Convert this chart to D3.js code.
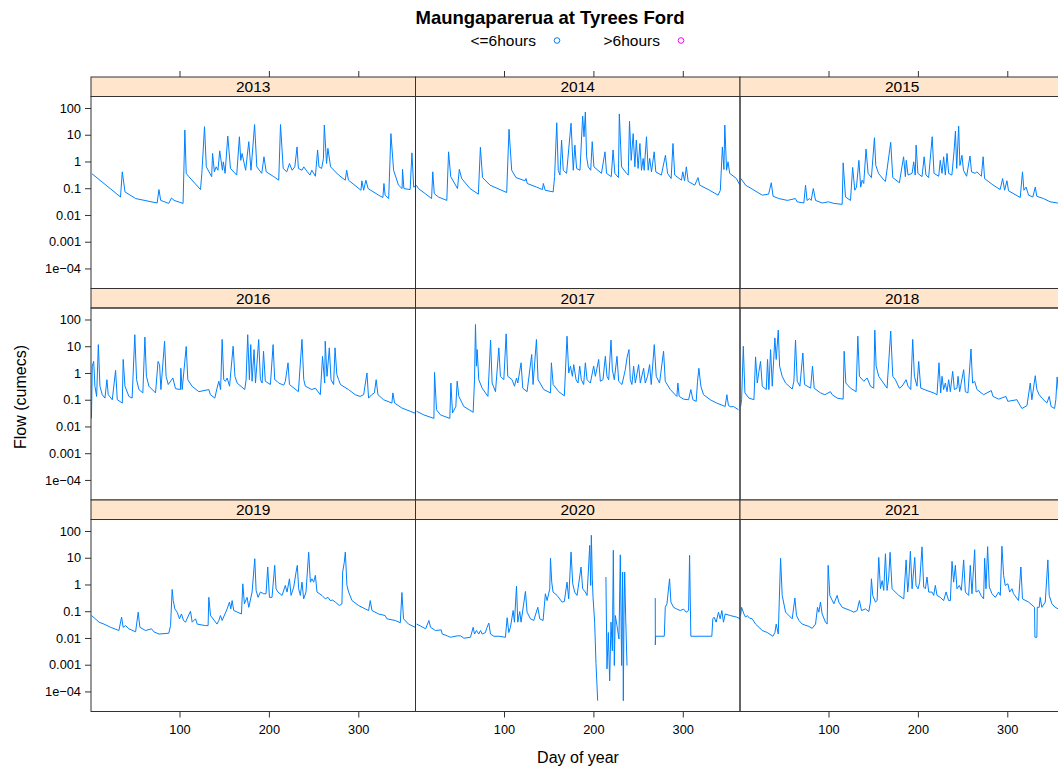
<!DOCTYPE html>
<html>
<head>
<meta charset="utf-8">
<script src="https://cdn.jsdelivr.net/npm/d3@7"></script>
<style>
  body { margin: 0; background: #fff; }
  text { font-family: "Liberation Sans", Arial, sans-serif; }
</style>
</head>
<body>
<script>
// ---- data (day of year, flow in cumecs) ----
const years = [2013, 2014, 2015, 2016, 2017, 2018, 2019, 2020, 2021];
const yTicks = [1e-4, 1e-3, 0.01, 0.1, 1, 10, 100];
const yTickLabels = ["1e\u221204", "0.001", "0.01", "0.1", "1", "10", "100"];
const xTicks = [100, 200, 300];
const legendLabels = ["<=6hours", ">6hours"];

const flow2013 = [[2,0.35],[34,0.047],[36,0.41],[39,0.073],[51,0.041],[75,0.028],[77,0.089],[79,0.035],[88,0.027],[91,0.043],[94,0.035],[104,0.027],[106,15],[107.5,0.36],[110.5,0.27],[123.5,0.089],[125,0.36],[128,20],[130,0.63],[136,0.27],[137,2.0],[139,0.41],[141,0.63],[143,0.47],[145,2.5],[148,0.47],[149,0.97],[151,0.36],[154,8.9],[157,0.55],[164,0.31],[167,8.4],[168.5,1.1],[170,2.0],[174,0.47],[177.5,5.5],[180,0.47],[184,24],[186.5,0.63],[192,0.36],[194.5,1.5],[197,0.41],[205.5,0.27],[211,0.2],[213,24],[216,0.55],[220,0.41],[223,0.84],[226,0.47],[229,0.63],[231.5,3.5],[233,0.55],[237,0.47],[239,0.63],[243,0.41],[246,0.31],[248,0.47],[252,0.28],[254.5,2.7],[256,0.63],[259,0.55],[261,1.3],[262,23],[264.5,0.84],[266,3.1],[269,0.63],[278,0.31],[285.5,0.2],[287,0.47],[289,0.2],[303,0.084],[304,0.19],[306,0.084],[308.5,0.2],[311,0.097],[322.7,0.055],[327.5,0.045],[328.7,0.15],[330,0.055],[334,0.041],[336.5,11],[339.5,0.47],[345,0.13],[349,0.097],[349.5,0.51],[351,0.097],[358,0.089],[360,2.1],[362,0.11],[366,0.13]];

const flow2014 = [[2,0.13],[4.3,0.097],[11.8,0.063],[19,0.041],[20.3,0.41],[22,0.063],[24,0.055],[26.7,0.047],[36,0.035],[38,2.3],[40.4,0.27],[48,0.097],[50,0.51],[52.7,0.23],[62,0.097],[71.3,0.06],[73.6,3.4],[76,0.25],[84.4,0.13],[103,0.069],[105.6,16],[108.6,0.47],[113.4,0.25],[123.5,0.19],[124.6,0.23],[126,0.15],[136.5,0.11],[143,0.089],[144,0.15],[146,0.084],[155,0.073],[156.6,0.27],[159,28],[160.7,0.47],[162.6,0.31],[164.4,6.3],[166.3,0.47],[170,0.36],[175,27],[177.5,0.47],[179.3,4.1],[181.2,0.55],[185,0.47],[188,50],[189.5,8.4],[191,71],[192.4,1.5],[194.2,0.63],[197,0.47],[198.7,5.5],[200.6,0.63],[209,0.36],[213,2.3],[214.7,0.36],[220,0.27],[222,2.7],[224,0.36],[228,0.25],[229,60],[231.5,0.63],[237,0.36],[239,0.31],[240.4,32],[242.3,1.1],[244.5,11],[246.4,0.63],[248,6.3],[250,0.55],[252,4.7],[253.8,0.47],[255.7,1.3],[256.8,0.47],[259.4,8.4],[261.3,0.47],[263,1.3],[265,0.41],[268,2.3],[269.8,0.41],[276,0.31],[280.6,1.7],[283,0.36],[287,0.23],[289,4.7],[291,0.31],[298.5,0.2],[300,0.41],[302,0.19],[304,0.63],[306,0.18],[313.4,0.13],[317,0.25],[319,0.13],[330,0.084],[339.5,0.055],[342,0.084],[344.3,3.5],[346,0.5],[347,23],[349,0.47],[350.6,0.97],[352.5,0.36],[360,0.23],[364,0.13]];

const flow2015 = [[2,0.23],[7.3,0.13],[26,0.055],[33,0.06],[36,0.16],[38,0.05],[44.5,0.041],[54,0.035],[63,0.041],[65,0.031],[72.4,0.028],[74.3,0.13],[76,0.035],[78.8,0.041],[80.6,0.035],[83,0.097],[85.5,0.035],[93,0.028],[100,0.031],[106,0.027],[115.3,0.025],[116.4,0.89],[119,0.047],[124.6,0.035],[127,0.6],[129.4,0.084],[131.3,0.11],[134,1.1],[136,0.11],[137.6,0.2],[139.4,0.15],[142,2.9],[144.3,0.36],[148,0.25],[151.4,7.7],[152.9,0.71],[156,0.36],[162,0.2],[163.7,0.18],[169.6,5.2],[171.9,0.25],[179.3,0.16],[184,1.5],[186,0.27],[187,1.1],[189,0.31],[193.5,0.36],[195.3,0.97],[197,0.31],[198,4.1],[200,0.36],[204.6,0.27],[207,1.5],[209,0.31],[212,0.25],[216,8.4],[218,0.36],[223.3,0.28],[225,1.1],[227,0.36],[228.8,1.5],[230.7,0.31],[232.6,2],[234.4,0.36],[238,0.31],[240.4,2.3],[242,13.7],[243.4,0.55],[245.6,21],[247,0.71],[249.3,1.7],[251,0.47],[254.5,0.28],[258.3,1.6],[260,0.41],[264,0.36],[266,0.41],[271,0.28],[273,1.5],[274.6,0.23],[283,0.14],[292,0.089],[294.8,0.23],[297,0.084],[299.6,0.19],[301.4,0.08],[314.5,0.045],[317,0.41],[318.6,0.084],[321,0.11],[323.8,0.055],[328.6,0.047],[331.3,0.11],[333,0.05],[340.5,0.041],[348,0.031],[356.5,0.028],[364,0.027]];

const flow2016 = [[1.5,0.02],[2.4,1.8],[4,2.7],[5.4,0.32],[7.3,0.133],[9.2,11.5],[11,0.32],[13.6,0.154],[16.6,0.115],[18.8,0.56],[20.3,0.154],[24.8,0.1],[28.5,1.25],[30.4,0.1],[36,0.075],[37,3.2],[39,0.32],[43.4,0.133],[47,0.115],[50,27],[52,0.56],[54.6,0.24],[59,0.18],[61.3,22],[63,0.75],[65.8,0.32],[73.2,0.18],[76,2.7],[77.7,2.05],[79.2,0.24],[83.3,15.4],[85,0.75],[87.4,0.37],[92.6,0.65],[95.5,0.26],[101,0.24],[101.5,1.5],[103,0.24],[107.5,9.8],[109.3,0.56],[114,0.32],[121.6,0.2],[132.8,0.24],[134.6,0.154],[139.5,0.115],[142,0.27],[144,0.49],[146,0.24],[147.7,18],[149.5,0.56],[151.4,0.49],[153.3,0.65],[156,0.32],[160,10],[162,0.75],[164.5,0.42],[173,0.24],[174.5,0.56],[176.3,27],[178.2,0.56],[179.7,11.5],[181.2,0.49],[183.4,7.5],[185,0.42],[188.6,17.8],[190.5,0.56],[192.4,0.42],[194,6.5],[196,0.49],[201.7,0.37],[204.7,11.5],[206.5,0.56],[209,0.49],[211,0.42],[216.6,0.35],[218.4,0.49],[221.4,2.4],[223,0.37],[233,0.2],[237,18],[239,0.56],[240.8,0.32],[248,0.24],[252,0.27],[257.5,0.154],[260,4.2],[262.4,0.42],[263,15.4],[265,0.75],[267.6,8.7],[269.5,0.56],[272.4,0.37],[274,8.7],[276,0.87],[278,0.56],[280,0.37],[289,0.24],[296.6,0.154],[302,0.133],[306,0.154],[309.7,1.0],[311.5,0.115],[315,0.154],[318,0.18],[320,0.56],[322,0.154],[328.3,0.1],[337.6,0.075],[338.7,0.18],[340.6,0.075],[348.8,0.049],[358,0.037],[365,0.03]];

const flow2017 = [[2.2,0.037],[10.4,0.027],[21.6,0.02],[22.3,1.05],[24.5,0.042],[29,0.027],[39.4,0.02],[40.6,0.42],[42.4,0.032],[46.1,0.056],[47.6,0.49],[49.5,0.133],[55,0.056],[65.5,0.034],[67,0.56],[68.1,65],[69.2,1.8],[70,7.5],[71.8,0.56],[75.6,0.27],[82,0.133],[85,17],[86.7,0.42],[90.5,0.2],[94.2,8.7],[96,0.75],[99.8,0.56],[102.4,29],[104.2,0.75],[109,0.56],[111.7,0.32],[114,0.65],[115.4,0.42],[119.1,2.4],[121,0.27],[125.8,0.2],[131,4.9],[132.5,0.37],[136.3,17.8],[138.1,0.56],[144.5,0.24],[152,0.18],[153,2.4],[155,0.37],[161.2,0.2],[167.5,0.14],[170.5,23.7],[172.4,1.0],[174.3,1.8],[176.5,0.75],[178,2.05],[180.6,0.56],[182.8,0.42],[184.7,1.8],[186.5,0.56],[189.1,0.37],[191,2.4],[192.9,0.56],[196.6,0.42],[200.3,1.8],[202.2,0.75],[205.9,3.2],[207.8,0.49],[210.7,0.56],[213.4,4.2],[215.2,0.75],[217.1,0.56],[219.7,17],[221.2,1.33],[223.4,0.56],[226.4,4.2],[228.3,0.49],[232,0.37],[235.7,1.33],[237.6,3.7],[239.8,7.5],[241.3,0.56],[243.1,0.37],[245,1.8],[246.9,0.42],[250.6,2.05],[252.5,0.42],[256.2,1.5],[258,0.42],[260.6,0.75],[262.9,2.05],[264.7,0.37],[268.1,11.5],[270.3,0.75],[274,0.42],[278.5,6.5],[280.4,0.49],[286,0.24],[293.4,0.133],[294.5,0.42],[296,0.133],[300.9,0.105],[306.5,0.1],[309,0.24],[311.3,0.1],[315,0.087],[316.5,0.49],[318,1.5],[320.2,0.32],[323.2,0.154],[330.7,0.1],[338,0.075],[347.4,0.056],[349.3,0.154],[351.1,0.06],[353.7,0.054],[356.7,0.056],[362.3,0.042]];

const flow2018 = [[1.7,0.056],[2.8,0.1],[4.7,10],[6.5,0.18],[11,0.115],[16.6,0.1],[18.4,4.0],[20.3,0.42],[22.2,1.15],[24,2.7],[25.9,0.32],[30.4,0.24],[31.8,3.2],[33.3,0.24],[35.2,7.5],[37.1,0.32],[40,20.5],[41.5,3.2],[43.8,40],[45.3,1.8],[48.2,0.75],[52,0.42],[59.4,0.25],[61.3,0.49],[63.1,17],[65,0.49],[68,0.32],[71.3,5.6],[73.2,0.37],[80,0.27],[82.1,1.8],[84,0.27],[91,0.18],[95.9,0.154],[102.2,0.2],[104.1,0.154],[109.7,0.115],[116.4,0.105],[117.5,6.5],[119.4,0.42],[124.6,0.27],[130.9,0.2],[132.8,23.7],[134.6,0.75],[139.5,0.49],[143.2,0.65],[147,0.32],[150.6,0.27],[151.8,40],[153.3,1.8],[156.2,0.75],[165.5,0.27],[169.6,37],[171.9,0.75],[174.8,0.56],[179.3,0.27],[182.3,0.32],[186.8,0.56],[189,0.32],[192,0.24],[194.2,18],[196.1,0.75],[199,0.32],[200.9,2.7],[203.2,0.27],[210.2,0.22],[217.7,0.18],[221.4,0.154],[223.6,2.4],[225.5,0.18],[227,0.75],[228.8,0.24],[230.7,0.42],[232.6,0.2],[234.4,0.56],[236.3,0.2],[238.9,1.15],[240.8,0.24],[243.7,0.27],[244.9,0.75],[246.7,0.2],[251.2,1.33],[253.1,0.2],[256,0.18],[259.4,7.9],[261.2,0.42],[263.5,0.49],[266.1,0.24],[273.5,0.154],[282.1,0.22],[284,0.133],[290.3,0.105],[298.5,0.133],[300.6,0.087],[310.8,0.1],[312.7,0.075],[316.4,0.047],[322,0.06],[325.7,0.42],[327.5,0.1],[331.3,0.79],[333.1,0.24],[335.7,0.154],[338.7,0.115],[344.3,0.075],[346.9,0.133],[349,0.056],[352.9,0.047],[354.3,0.1],[355.8,0.71],[357,0.24],[360,0.15]];

const flow2019 = [[1.7,0.069],[10,0.039],[15.5,0.033],[23,0.025],[32.2,0.019],[35.2,0.06],[37,0.025],[39.7,0.029],[43.4,0.022],[50.9,0.017],[53.8,0.092],[55.7,0.025],[62,0.019],[68.7,0.022],[71.3,0.017],[77,0.014],[88,0.015],[90,0.029],[91.8,0.65],[93,0.25],[94.8,0.122],[97.4,0.092],[100,0.052],[102.2,0.079],[104.5,0.045],[106.7,0.039],[112.3,0.1],[114.2,0.039],[117.9,0.052],[119.8,0.033],[129,0.029],[132,0.029],[132.8,0.33],[134.7,0.069],[142,0.033],[144,0.045],[145.8,0.069],[147.7,0.045],[153.3,0.122],[155.9,0.22],[157.4,0.122],[158.9,0.25],[160.7,0.106],[169.3,0.079],[170.8,1.06],[172.6,0.19],[175.6,0.33],[177.5,0.14],[181.2,0.52],[184.2,9.2],[185.7,0.6],[187.9,0.33],[190.5,0.52],[194.2,0.45],[196.8,0.45],[198.7,4.5],[200.6,0.33],[203.5,0.33],[206.5,5.2],[208,0.69],[210.2,0.52],[214.7,0.39],[218.4,0.92],[220.3,0.52],[223,1.63],[224.8,0.39],[227.8,0.8],[230.4,2.9],[231.8,5.2],[233.3,0.69],[235.2,0.39],[237,1.22],[238.9,0.29],[241.5,0.52],[244.5,16],[246.4,1.22],[248.2,1.63],[250.1,1.22],[252,2.2],[253.8,0.52],[259.4,0.39],[263.1,0.29],[266.1,0.33],[268.7,0.25],[271.3,0.26],[274.3,0.22],[278.8,0.163],[281.7,0.19],[282.5,2.9],[284.4,7],[285.5,16.3],[287.3,0.92],[289.2,0.52],[293,0.25],[300.4,0.163],[307.8,0.122],[311.5,0.106],[313.4,0.25],[315.3,0.106],[322.7,0.079],[330,0.069],[332,0.052],[341.3,0.045],[347,0.037],[348.8,0.5],[350.6,0.052],[356.2,0.033],[363.7,0.025]];

// null marks a gap in the record
const flow2020 = [[2.2,0.033],[6.7,0.028],[12.3,0.022],[16,0.045],[17.8,0.025],[23.4,0.019],[29.8,0.02],[30.9,0.014],[36.5,0.012],[40.2,0.0106],[47.6,0.012],[51.4,0.012],[55.1,0.0098],[62.5,0.0106],[65.5,0.025],[67,0.014],[69.2,0.019],[71.8,0.014],[73.7,0.019],[75.6,0.014],[79.3,0.016],[80.4,0.022],[83,0.036],[84.9,0.014],[88.6,0.0116],[94.2,0.0116],[101.6,0.0106],[103.5,0.057],[105.4,0.016],[107.2,0.025],[110.2,0.106],[111.7,0.039],[114,0.87],[115.4,0.039],[117.6,0.097],[119.1,0.039],[124,0.55],[125.8,0.092],[129.6,0.052],[133.3,0.045],[137.8,0.14],[140,0.052],[143.7,0.045],[146.3,0.45],[148.2,0.25],[151.2,0.69],[152,9.6],[153.4,1.22],[154.9,0.52],[159.4,0.39],[165,0.22],[167.5,0.23],[170.5,1.22],[172.4,0.29],[175,16.3],[176.9,1.06],[179.1,0.52],[181.7,0.39],[186.2,4.5],[188,0.69],[191,0.52],[192.9,0.39],[195.9,29],[197,0.92],[197.7,69],[198.8,1.63],[199.6,0.33],[201.4,0.039],[202.9,0.0011],[204.8,0.000045],[205,null],
  [214,1.9],[215.2,0.0007],[216.7,0.016],[218.2,0.00025],[219.7,0.039],[221.2,0.0033],[222.3,19],[223.4,0.00093],[224.5,0.069],[226.4,0.029],[228.6,0.0092],[230.1,12.8],[231.6,0.00093],[232.7,2.9],[233.5,0.000045],[234.2,0.069],[235,2.9],[236.1,0.06],[237.6,0.00093],[238,null],
  [269.2,0.31],[269.3,0.0055],[269.6,0.0116],[279.3,0.0116],[280.4,0.14],[282.3,0.19],[285.2,1.63],[286.7,0.22],[289.7,0.14],[293.4,0.12],[297.1,0.106],[300.9,0.12],[303.8,0.092],[306.5,0.106],[307.6,12.3],[309,0.0116],[332.5,0.0116],[333.6,0.052],[335.1,0.06],[337.3,0.039],[339.9,0.092],[341.8,0.052],[343.7,0.106],[345.5,0.039],[347.4,0.079],[353,0.069],[360.4,0.06],[364.2,0.052]];

const flow2021 = [[1.7,0.069],[2.8,0.14],[5.4,0.079],[7.3,0.06],[9.1,0.069],[11.7,0.055],[14.7,0.052],[18.4,0.033],[22.2,0.025],[25.9,0.019],[31.5,0.016],[37.8,0.0116],[40.1,0.016],[41.5,0.033],[43.8,0.014],[46.4,9.6],[48.2,0.39],[52,0.092],[59.4,0.052],[62.4,0.31],[64.2,0.069],[66.9,0.045],[70.6,0.033],[78,0.027],[81.8,0.023],[85.5,0.033],[87.7,0.14],[89.2,0.092],[91,0.22],[92.9,0.079],[96.6,0.039],[98.5,0.033],[99.6,5.2],[101.5,0.39],[106,0.19],[109.7,0.39],[111.5,0.22],[115.3,0.14],[124.6,0.106],[128.3,0.092],[132,0.106],[134.6,0.25],[136.9,0.106],[141.3,0.122],[145.1,0.097],[146.9,0.22],[148,1.63],[149.5,0.39],[152.5,0.22],[154.4,0.25],[156.2,10.3],[158.1,0.69],[160,1.4],[161.8,0.6],[163.7,14.1],[165.5,0.6],[167.4,1.9],[168.9,16],[171.1,0.69],[178.6,0.39],[184.2,0.29],[186.8,8.3],[188.6,0.52],[189.7,1.22],[191.6,17.4],[193.5,0.69],[196.5,10.3],[197.9,0.92],[200.2,0.69],[202,1.22],[204.6,25.5],[206.5,0.8],[208.4,0.69],[210.2,1.9],[212.1,0.52],[215.8,0.52],[217.7,0.39],[219.5,0.92],[221.4,0.39],[225.1,0.33],[228.8,0.25],[231.5,0.52],[234.4,0.25],[236.3,0.25],[238.2,7.3],[240,1.22],[241.9,5.2],[243.7,0.69],[246.4,0.92],[248.6,0.6],[251.2,8.3],[253.1,0.52],[256.8,0.39],[258.6,5.2],[260.5,0.45],[263.5,19.9],[265,0.52],[268,0.6],[270.6,0.39],[273.5,0.29],[274.7,9.6],[276.2,0.69],[278,26],[279.9,0.8],[282.9,0.45],[286.6,0.33],[290.3,0.52],[292.2,0.39],[294,27],[295.9,2.2],[297.7,0.92],[300.7,1.06],[302.6,0.52],[305.2,0.69],[307,0.45],[312.6,0.25],[315.2,4.5],[317,0.29],[323.8,0.22],[330.5,0.14],[330.9,0.0106],[333.1,0.0106],[333.5,0.14],[335.7,0.14],[336.8,0.33],[338.7,0.14],[342.5,0.22],[345.4,8.3],[346.9,0.39],[349.9,0.19],[353.6,0.14],[357,0.122],[364,0.1]];

const flows = [flow2013, flow2014, flow2015, flow2016, flow2017, flow2018, flow2019, flow2020, flow2021];

// ---- layout ----
const width = 1058, height = 769;
const padL = 91, colW = 324.5, padT = 77, rowH = 211.5, stripH = 19.5;
const panelH = rowH - stripH;
const lineCol = "#0080ff", stripCol = "#ffe5cc", frameCol = "#333";

const svg = d3.select("body").append("svg")
    .attr("width", width)
    .attr("height", height);

const x = d3.scaleLinear().domain([1, 364]).range([0, colW]);
const y = d3.scaleLog().domain([Math.pow(10, -4.75), Math.pow(10, 2.43)]).range([panelH, 0]);

const line = d3.line()
    .defined(d => d[1] != null)
    .x(d => x(d[0]))
    .y(d => y(d[1]));

// title + key
svg.append("text")
    .attr("x", 550).attr("y", 24)
    .attr("text-anchor", "middle")
    .style("font-size", "18.5px").style("font-weight", "bold")
    .text("Maungaparerua at Tyrees Ford");

const keyCols = [lineCol, "#ff00ff"];
const keyX = [536, 660];
legendLabels.forEach((lab, i) => {
    svg.append("text")
        .attr("x", keyX[i]).attr("y", 46)
        .attr("text-anchor", "end")
        .style("font-size", "15.5px")
        .text(lab);
    svg.append("circle")
        .attr("cx", keyX[i] + 21).attr("cy", 40.5).attr("r", 2.8)
        .attr("fill", "none").attr("stroke", keyCols[i]).attr("stroke-width", 1);
});

const defs = svg.append("defs");
defs.append("clipPath").attr("id", "panelClip")
    .append("rect").attr("width", colW).attr("height", panelH);

years.forEach((yr, i) => {
    const col = i % 3, row = Math.floor(i / 3);
    const g = svg.append("g")
        .attr("transform", `translate(${padL + col * colW},${padT + row * rowH})`);

    g.append("rect")
        .attr("width", colW).attr("height", stripH)
        .attr("fill", stripCol).attr("stroke", frameCol);
    g.append("text")
        .attr("x", colW / 2).attr("y", stripH / 2 + 5.5)
        .attr("text-anchor", "middle")
        .style("font-size", "15.5px")
        .text(yr);

    const p = g.append("g").attr("transform", `translate(0,${stripH})`);
    p.append("g").attr("clip-path", "url(#panelClip)")
        .append("path")
        .datum(flows[i])
        .attr("d", line)
        .attr("fill", "none")
        .attr("stroke", lineCol)
        .attr("stroke-width", 1);
    p.append("rect")
        .attr("width", colW).attr("height", panelH)
        .attr("fill", "none").attr("stroke", frameCol);

    if (col === 0) {
        const ax = p.append("g")
            .call(d3.axisLeft(y).tickValues(yTicks)
                .tickFormat((d, k) => yTickLabels[k]).tickSize(6).tickPadding(4));
        ax.select(".domain").remove();
    }
    if (row === 2) {
        const ax = p.append("g").attr("transform", `translate(0,${panelH})`)
            .call(d3.axisBottom(x).tickValues(xTicks).tickSize(6).tickPadding(7));
        ax.select(".domain").remove();
    }
    if (row === 0) {
        const ax = g.append("g")
            .call(d3.axisTop(x).tickValues(xTicks).tickFormat("").tickSize(6));
        ax.select(".domain").remove();
    }
});

svg.selectAll(".tick text")
    .style("font-family", "'Liberation Sans', Arial, sans-serif")
    .style("font-size", "12.8px").attr("fill", "#000");
svg.selectAll(".tick line").attr("stroke", frameCol);

svg.append("text")
    .attr("transform", "translate(26,397) rotate(-90)")
    .attr("text-anchor", "middle")
    .style("font-size", "16px")
    .text("Flow (cumecs)");

svg.append("text")
    .attr("x", 578).attr("y", 763)
    .attr("text-anchor", "middle")
    .style("font-size", "16px")
    .text("Day of year");
</script>
</body>
</html>
